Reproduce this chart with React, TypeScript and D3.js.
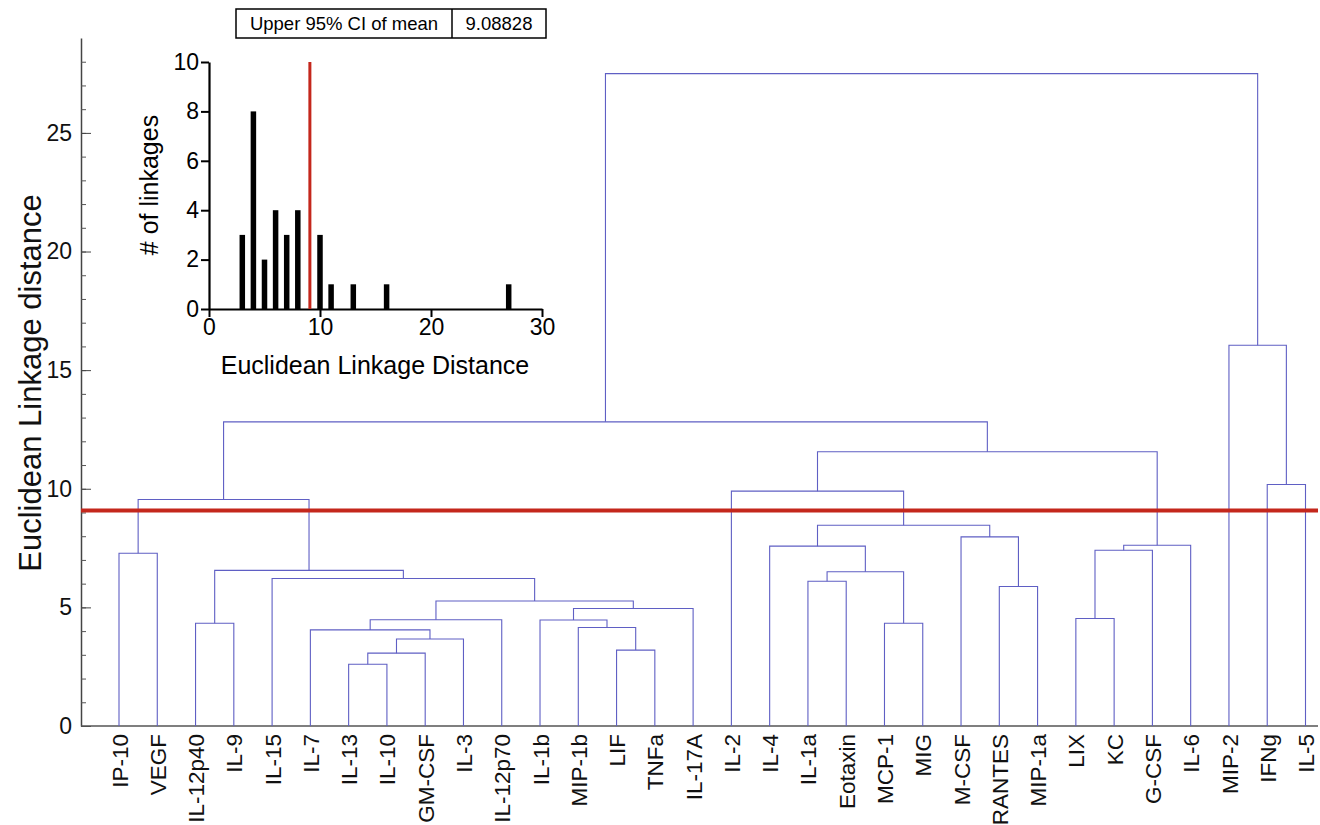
import React, { useEffect, useRef } from "react";
import * as d3 from "d3";

// leaf order along the bottom
const leaves = [
  "IP-10", "VEGF", "IL-12p40", "IL-9", "IL-15", "IL-7", "IL-13", "IL-10",
  "GM-CSF", "IL-3", "IL-12p70", "IL-1b", "MIP-1b", "LIF", "TNFa", "IL-17A",
  "IL-2", "IL-4", "IL-1a", "Eotaxin", "MCP-1", "MIG", "M-CSF", "RANTES",
  "MIP-1a", "LIX", "KC", "G-CSF", "IL-6", "MIP-2", "IFNg", "IL-5",
];

// merges: [node id, left child, right child, linkage distance]
const merges: [string, string, string, number][] = [
  ["a1", "IL-13", "IL-10", 2.6],
  ["a2", "a1", "GM-CSF", 3.07],
  ["b1", "LIF", "TNFa", 3.2],
  ["a3", "a2", "IL-3", 3.67],
  ["a4", "IL-7", "a3", 4.05],
  ["b2", "MIP-1b", "b1", 4.15],
  ["c1", "IL-12p40", "IL-9", 4.33],
  ["e2", "MCP-1", "MIG", 4.33],
  ["b3", "IL-1b", "b2", 4.47],
  ["a5", "a4", "IL-12p70", 4.48],
  ["h1", "LIX", "KC", 4.53],
  ["b4", "b3", "IL-17A", 4.95],
  ["a6", "a5", "b4", 5.27],
  ["f1", "RANTES", "MIP-1a", 5.88],
  ["e1", "IL-1a", "Eotaxin", 6.1],
  ["a7", "IL-15", "a6", 6.22],
  ["e3", "e1", "e2", 6.5],
  ["a8", "c1", "a7", 6.56],
  ["d1", "IP-10", "VEGF", 7.28],
  ["h2", "h1", "G-CSF", 7.41],
  ["e4", "IL-4", "e3", 7.58],
  ["h3", "h2", "IL-6", 7.62],
  ["f2", "M-CSF", "f1", 7.97],
  ["e5", "e4", "f2", 8.46],
  ["A", "d1", "a8", 9.55],
  ["g1", "IL-2", "e5", 9.9],
  ["i1", "IFNg", "IL-5", 10.18],
  ["B", "g1", "h3", 11.56],
  ["AB", "A", "B", 12.82],
  ["i2", "MIP-2", "i1", 16.05],
  ["root", "AB", "i2", 27.5],
];

const threshold = 9.08828;
const mainTicks = [0, 5, 10, 15, 20, 25];

// inset histogram of linkage distances
const histBins = [3, 4, 5, 6, 7, 8, 10, 11, 13, 16, 27];
const histCounts = [3, 8, 2, 4, 3, 4, 3, 1, 1, 1, 1];
const histXTicks = [0, 10, 20, 30];
const histYTicks = [0, 2, 4, 6, 8, 10];

const FONT = "'Liberation Sans', Arial, sans-serif";
const LINE = "#5f5fc4";
const RED = "#c4271c";

export default function App() {
  const ref = useRef<SVGSVGElement>(null);

  useEffect(() => {
    const svg = d3.select(ref.current);
    svg.selectAll("*").remove();
    svg.style("font-family", FONT);

    const x = d3.scalePoint<string>().domain(leaves).range([119, 1305.5]);
    const y = d3.scaleLinear().domain([0, 29]).range([726, 38]);

    // y axis: labels on the left, ticks pointing inward
    const gy = svg.append("g").attr("transform", "translate(81,0)");
    gy.call(d3.axisLeft(y).tickValues(mainTicks).tickSize(0).tickPadding(9));
    gy.selectAll("text").style("font-size", "23px").attr("fill", "#111").attr("font-family", FONT);
    gy.select(".domain").attr("stroke", "#444").attr("stroke-width", 1.5);
    const gMinor = svg.append("g").attr("transform", "translate(81,0)");
    gMinor.call(d3.axisRight(y).tickValues(d3.range(0, 29)).tickSize(5).tickFormat(() => ""));
    gMinor.select(".domain").remove();
    gMinor.selectAll("line").attr("stroke", "#555");
    const gMajor = svg.append("g").attr("transform", "translate(81,0)");
    gMajor.call(d3.axisRight(y).tickValues(mainTicks).tickSize(10).tickFormat(() => ""));
    gMajor.select(".domain").remove();
    gMajor.selectAll("line").attr("stroke", "#444");

    svg.append("text")
      .attr("transform", "translate(41,383) rotate(-90)")
      .attr("text-anchor", "middle")
      .style("font-size", "31px")
      .attr("fill", "#111")
      .text("Euclidean Linkage distance");

    // baseline
    svg.append("line")
      .attr("x1", 81).attr("x2", 1318)
      .attr("y1", y(0)).attr("y2", y(0))
      .attr("stroke", "#555").attr("stroke-width", 1.5);

    // leaf labels
    svg.append("g").selectAll("text").data(leaves).join("text")
      .attr("transform", d => `translate(${x(d)},734) rotate(-90)`)
      .attr("text-anchor", "end")
      .attr("dy", "0.38em")
      .style("font-size", "22.5px")
      .attr("fill", "#111")
      .text(d => d);

    // dendrogram links
    const pos = new Map<string, [number, number]>();
    leaves.forEach(l => pos.set(l, [x(l) as number, 0]));
    const links = svg.append("g");
    merges.forEach(([id, l, r, h]) => {
      const [xl, hl] = pos.get(l)!;
      const [xr, hr] = pos.get(r)!;
      links.append("path")
        .attr("d", `M${xl},${y(hl)}V${y(h)}H${xr}V${y(hr)}`)
        .attr("fill", "none")
        .attr("stroke", LINE)
        .attr("stroke-width", 1.1);
      pos.set(id, [(xl + xr) / 2, h]);
    });

    // cut line
    svg.append("line")
      .attr("x1", 81).attr("x2", 1318)
      .attr("y1", y(threshold)).attr("y2", y(threshold))
      .attr("stroke", RED).attr("stroke-width", 4);

    // ---- inset histogram ----
    const hx = d3.scaleLinear().domain([0, 30]).range([209, 542]);
    const hy = d3.scaleLinear().domain([0, 10]).range([309, 62]);
    const bw = 5.5;

    svg.append("g").selectAll("rect").data(histBins).join("rect")
      .attr("x", (d) => hx(d) - bw / 2)
      .attr("y", (d, i) => hy(histCounts[i]))
      .attr("width", bw)
      .attr("height", (d, i) => hy(0) - hy(histCounts[i]))
      .attr("fill", "#000");

    const hgx = svg.append("g").attr("transform", `translate(0,${hy(0)})`);
    hgx.call(d3.axisBottom(hx).tickValues(histXTicks).tickSize(8).tickSizeOuter(0).tickPadding(2));
    const hgy = svg.append("g").attr("transform", `translate(${hx(0)},0)`);
    hgy.call(d3.axisLeft(hy).tickValues(histYTicks).tickSize(8).tickSizeOuter(0).tickPadding(2));
    [hgx, hgy].forEach(g => {
      g.select(".domain").attr("stroke", "#000").attr("stroke-width", 2.2);
      g.selectAll("line").attr("stroke", "#000").attr("stroke-width", 2);
      g.selectAll("text").style("font-size", "23px").attr("fill", "#000").attr("font-family", FONT);
    });

    svg.append("line")
      .attr("x1", hx(threshold)).attr("x2", hx(threshold))
      .attr("y1", hy(0)).attr("y2", hy(10))
      .attr("stroke", RED).attr("stroke-width", 3);

    svg.append("text")
      .attr("x", 375).attr("y", 374)
      .attr("text-anchor", "middle")
      .style("font-size", "25px")
      .attr("fill", "#000")
      .text("Euclidean Linkage Distance");

    svg.append("text")
      .attr("transform", "translate(158,185) rotate(-90)")
      .attr("text-anchor", "middle")
      .style("font-size", "25px")
      .attr("fill", "#000")
      .text("# of linkages");

    // stats box
    const box = svg.append("g");
    box.append("rect").attr("x", 236).attr("y", 9).attr("width", 310).attr("height", 29)
      .attr("fill", "none").attr("stroke", "#000").attr("stroke-width", 1.5);
    box.append("line").attr("x1", 452).attr("x2", 452).attr("y1", 9).attr("y2", 38)
      .attr("stroke", "#000").attr("stroke-width", 1.5);
    box.append("text").attr("x", 344).attr("y", 30).attr("text-anchor", "middle")
      .style("font-size", "18.5px").attr("fill", "#000").text("Upper 95% CI of mean");
    box.append("text").attr("x", 499).attr("y", 30).attr("text-anchor", "middle")
      .style("font-size", "18.5px").attr("fill", "#000").text(threshold.toFixed(5));
  }, []);

  return (
    <svg
      ref={ref}
      width={1320}
      height={825}
      style={{ position: "absolute", left: 0, top: 0, background: "#fff" }}
    />
  );
}
